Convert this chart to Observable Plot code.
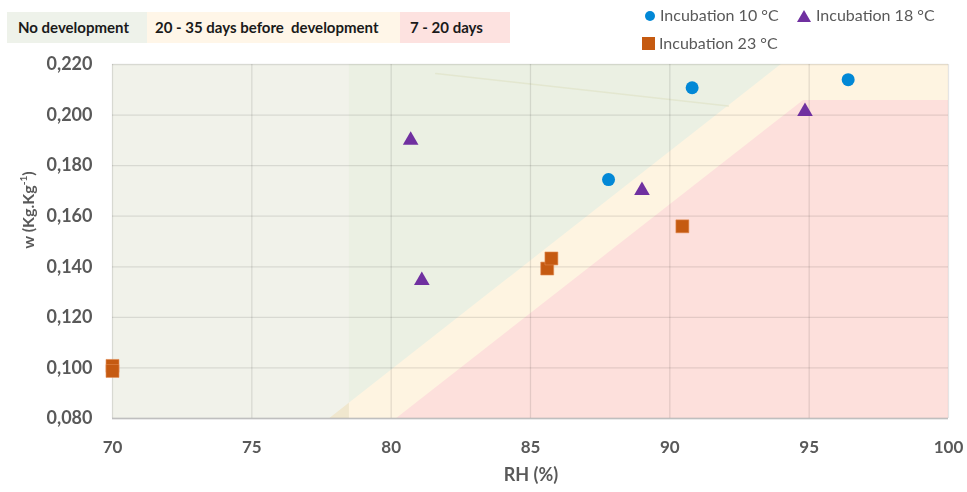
<!DOCTYPE html>
<html><head><meta charset="utf-8">
<script src="https://cdn.jsdelivr.net/npm/d3@7"></script>
<script src="https://cdn.jsdelivr.net/npm/@observablehq/plot@0.6"></script>
<style>
body{margin:0;background:#fff;font-family:Lato,"Open Sans",sans-serif;}
#wrap{position:relative;width:967px;height:492px;overflow:hidden;background:#fff}
#wrap svg{position:absolute;left:0;top:0}
.zone{position:absolute;top:12px;height:31px;line-height:31px;font-weight:bold;font-size:15px;color:#1a1a1a;box-sizing:border-box}
.leg{position:absolute;font-size:16px;color:#595959;white-space:nowrap;line-height:18px}
.leg svg{position:static!important;vertical-align:-1px;margin-right:4px}
#ylab{position:absolute;left:27px;top:210px;transform:translate(-50%,-50%) rotate(-90deg);font-weight:bold;font-size:16px;color:#595959;white-space:nowrap}
#ylab sup{font-size:10px}
#xlab{position:absolute;left:531px;top:463px;transform:translateX(-50%);font-weight:bold;font-size:18px;color:#595959;white-space:nowrap}
</style></head><body><div id="wrap">
<div class="zone" style="left:7px;width:140px;background:#eef2ea;padding-left:11px">No development</div>
<div class="zone" style="left:147px;width:253px;background:#fff6e8;padding-left:8px">20 - 35 days before&nbsp; development</div>
<div class="zone" style="left:400px;width:110px;background:#fde2e0;padding-left:10px">7 - 20 days</div>
<div class="leg" style="left:644px;top:6px"><svg width="12" height="12"><circle cx="6" cy="6" r="5" fill="#0288d6"/></svg>Incubation 10 °C</div>
<div class="leg" style="left:796px;top:6px"><svg width="16" height="12"><path d="M8 0 L15 12 L1 12 Z" fill="#7030a0"/></svg>Incubation 18 °C</div>
<div class="leg" style="left:642px;top:34px"><svg width="13" height="13"><rect x="0" y="0" width="13" height="13" fill="#c55a11"/></svg>Incubation 23 °C</div>
<div id="ylab">w (Kg.Kg<sup>-1</sup>)</div>
<div id="xlab">RH (%)</div>
</div>
<script>
// Series values
const rh10 = [87.8, 90.8, 96.4];
const w10  = [0.1745, 0.2108, 0.2140];
const rh18 = [80.7, 81.1, 89.0, 94.85];
const w18  = [0.1900, 0.1346, 0.1702, 0.2014];
const rh23 = [70.0, 70.0, 85.6, 85.75, 90.45];
const w23  = [0.1008, 0.0988, 0.1393, 0.1433, 0.1560];

// Tick values
const xTicks = [70, 75, 80, 85, 90, 95, 100];
const yTicks = [0.08, 0.10, 0.12, 0.14, 0.16, 0.18, 0.20, 0.22];

// Zone boundaries
const noDevX = [70, 78.5];
const greenX = [78.5, 100];
const yellowX  = [77.8, 94.0, 100];
const yellowHi = [0.080, 0.220, 0.220];
const redX  = [80.2, 94.8, 100];
const redHi = [0.080, 0.2058, 0.2058];
const faintX = [81.6, 92.1];
const faintW = [0.2164, 0.2036];

const yMin = 0.08, yMax = 0.22;
const toPts = (xs, ys) => xs.map((x, i) => ({x, y: ys[i]}));
const band = (xs, hi) => xs.map((x, i) => ({x, lo: yMin, hi: hi[i]}));
const fmt = d => d3.format(".3f")(d).replace(".", ",");

const plot = Plot.plot({
  width: 967, height: 492,
  marginTop: 64, marginLeft: 112, marginRight: 19, marginBottom: 74,
  x: {domain: [70, 100], axis: null},
  y: {domain: [yMin, yMax], axis: null},
  style: {background: "transparent", fontFamily: "Lato, 'Open Sans', sans-serif", overflow: "visible"},
  marks: [
    Plot.rect([{x1: greenX[0], x2: greenX[1]}], {x1: "x1", x2: "x2", y1: () => yMin, y2: () => yMax, fill: "#ebf0e3"}),
    Plot.areaY(band(yellowX, yellowHi), {x: "x", y1: "lo", y2: "hi", fill: "#fef4e1"}),
    Plot.areaY(band(redX, redHi), {x: "x", y1: "lo", y2: "hi", fill: "#fde0dc"}),
    Plot.rect([{x1: noDevX[0], x2: noDevX[1]}], {x1: "x1", x2: "x2", y1: () => yMin, y2: () => yMax, fill: "#f1f2ea", mixBlendMode: "multiply"}),
    Plot.line(toPts(faintX, faintW), {x: "x", y: "y", stroke: "#e0e2c8", strokeWidth: 1.5, strokeOpacity: 0.7}),
    Plot.ruleY(yTicks, {stroke: "#000", strokeOpacity: 0.1, strokeWidth: 1.3}),
    Plot.ruleX(xTicks, {stroke: "#000", strokeOpacity: 0.1, strokeWidth: 1.3}),
    Plot.ruleY([yMin], {stroke: "#bfbfbf", strokeWidth: 1.3}),
    Plot.dot(toPts(rh10, w10), {x: "x", y: "y", r: 6.5, symbol: "circle", fill: "#0288d6"}),
    Plot.dot(toPts(rh18, w18), {x: "x", y: "y", r: 5.8, symbol: "triangle", fill: "#7030a0"}),
    Plot.dot(toPts(rh23, w23), {x: "x", y: "y", r: 7.3, symbol: "square", fill: "#c55a11", stroke: "#e08a50", strokeWidth: 0.6}),
    Plot.text(yTicks, {y: d => d, text: d => fmt(d), frameAnchor: "left", dx: -20, textAnchor: "end", lineAnchor: "middle", fontSize: 18, fontWeight: "bold", fill: "#595959"}),
    Plot.text(xTicks, {x: d => d, text: d => String(d), frameAnchor: "bottom", lineAnchor: "middle", dy: 29, fontSize: 17, fontWeight: "bold", fill: "#595959"})
  ]
});
document.getElementById("wrap").prepend(plot);
</script>
</body></html>
